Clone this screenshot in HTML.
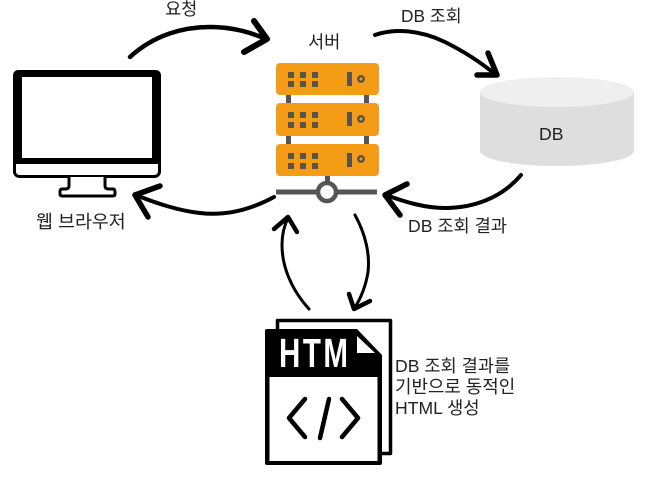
<!DOCTYPE html>
<html><head><meta charset="utf-8">
<style>
html,body{margin:0;padding:0;background:#fff;width:646px;height:479px;overflow:hidden}
svg{display:block}
text{font-family:"Liberation Sans","Noto Sans CJK KR",sans-serif;fill:#222;font-size:17.6px}
</style></head>
<body>
<svg width="646" height="479" viewBox="0 0 646 479" xmlns="http://www.w3.org/2000/svg">
<!-- monitor -->
<rect x="14.5" y="71.5" width="145" height="105" rx="5" fill="#fff" stroke="#000" stroke-width="3"/>
<path d="M18 70H156a5 5 0 0 1 5 5V164H13V75a5 5 0 0 1 5-5Z" fill="#000"/>
<rect x="22" y="77" width="130" height="81" fill="#fff"/>
<path d="M69 177V186Q69 189 65 189H62Q60 189 60 192V194Q60 196 62 196H113Q115 196 115 194V192Q115 189 113 189H109Q105 189 105 186V177" fill="#fff" stroke="#000" stroke-width="3"/>
<!-- server -->
<rect x="286" y="90" width="5" height="60" fill="#555"/>
<rect x="364" y="90" width="5" height="60" fill="#555"/>
<rect x="325" y="172" width="5" height="14" fill="#555"/>
<rect x="276" y="63" width="103" height="32" rx="4" fill="#f59c16"/>
<rect x="276" y="103" width="103" height="33" rx="4" fill="#f59c16"/>
<rect x="276" y="144" width="103" height="32" rx="4" fill="#f59c16"/>
<g fill="#5a5347">
<path d="M288 72h6v6h-6zM300 72h6v6h-6zM312 72h6v6h-6zM288 81h6v6h-6zM300 81h6v6h-6zM312 81h6v6h-6z"/>
<path d="M288 112h6v6h-6zM300 112h6v6h-6zM312 112h6v6h-6zM288 122h6v6h-6zM300 122h6v6h-6zM312 122h6v6h-6z"/>
<path d="M288 153h6v6h-6zM300 153h6v6h-6zM312 153h6v6h-6zM288 163h6v6h-6zM300 163h6v6h-6zM312 163h6v6h-6z"/>
<rect x="347" y="72" width="5" height="14"/><rect x="347" y="112" width="5" height="14"/><rect x="347" y="153" width="5" height="14"/>
</g>
<g fill="none" stroke="#5a5347" stroke-width="2.5">
<circle cx="361" cy="79" r="2.7"/><circle cx="361" cy="119" r="2.7"/><circle cx="361" cy="159" r="2.7"/>
</g>
<rect x="276" y="189.500" width="101" height="5" fill="#555"/>
<circle cx="327" cy="192" r="9" fill="#fff" stroke="#555" stroke-width="4.500"/>
<!-- DB -->
<path d="M480 92V151A77 15 0 0 0 634 151V92Z" fill="#dedede"/>
<ellipse cx="557" cy="92" rx="77" ry="15" fill="#efefef"/>
<!-- html doc -->
<path d="M277.500 329V320.500H390.500V453.500H381" fill="#fff" stroke="#000" stroke-width="3.500" stroke-linejoin="round"/>
<path d="M267 329H357L382 355V463Q382 465 380 465H267Q265 465 265 463V331Q265 329 267 329Z" fill="#000"/>
<rect x="269.500" y="377" width="108" height="84" fill="#fff"/>
<path d="M357 336V353H375Z" fill="#fff"/>
<text transform="translate(279,367) scale(0.72,1)" style="font-family:'Liberation Sans',sans-serif;font-size:41px;font-weight:bold;fill:#fff;letter-spacing:3.500px">HTM</text>
<g fill="none" stroke="#000" stroke-width="4.500" stroke-linecap="round" stroke-linejoin="round">
<path d="M305 399L289 418L305 437"/>
<path d="M329 399L320 438"/>
<path d="M342 399L358 418L342 437"/>
</g>
<!-- arrows -->
<g fill="none" stroke="#000" stroke-linecap="round" stroke-linejoin="round">
<path d="M130 57C155 34 185 27 210 27C232 27 250 32 266 39" stroke-width="4.500"/>
<path d="M254 21L267 39L244 52" stroke-width="6"/>
<path d="M375 35C395 28 420 30 445 42C465 52 483 64 496 75" stroke-width="4"/>
<path d="M488 53L497 75L477 75" stroke-width="5.500"/>
<path d="M521 175C500 200 470 208 445 208C425 208 405 202 386 195" stroke-width="4"/>
<path d="M407 184L385 195L400 215" stroke-width="5.500"/>
<path d="M274 197C250 210 225 216 200 213C180 211 155 203 136 195" stroke-width="4"/>
<path d="M160 186L135 195L148 217" stroke-width="5.500"/>
<path d="M309 309C290 288 282 265 282 245C282 235 284 226 288 218" stroke-width="3"/>
<path d="M274 229L288 217L297 232" stroke-width="4.500"/>
<path d="M355 215C366 235 370 255 368 272C366 285 361 298 354 309" stroke-width="3"/>
<path d="M349 294L354 309L370 301" stroke-width="4.500"/>
</g>
<!-- labels -->
<text x="165" y="15">요청</text>
<text x="308" y="48">서버</text>
<text x="401" y="22" style="font-size:17.300px">DB 조회</text>
<text x="539" y="140">DB</text>
<text x="408" y="232">DB 조회 결과</text>
<text x="36" y="228" style="font-size:18.400px">웹 브라우저</text>
<text x="395" y="372">DB 조회 결과를</text>
<text x="395" y="393" style="font-size:17.900px">기반으로 동적인</text>
<text x="395" y="414">HTML 생성</text>
</svg>
</body></html>
